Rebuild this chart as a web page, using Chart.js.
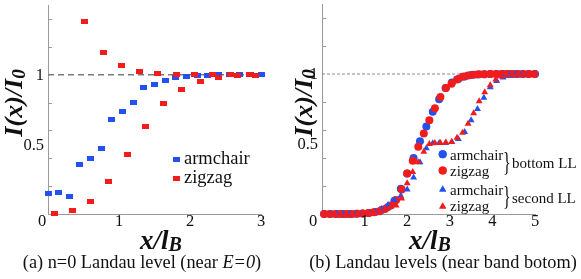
<!DOCTYPE html>
<html>
<head>
<meta charset="utf-8">
<script src="https://cdn.jsdelivr.net/npm/chart.js@4.4.1/dist/chart.umd.min.js"></script>
<style>
html, body { margin: 0; padding: 0; background: #fff; }
#wrap { position: relative; width: 581px; height: 279px; overflow: hidden; }
.box { position: absolute; top: 0; height: 279px; }
#boxA { left: 0; width: 290px; }
#boxB { left: 290px; width: 291px; }
</style>
</head>
<body>
<div id="wrap">
  <div class="box" id="boxA"><canvas id="chartA" width="290" height="279"></canvas></div>
  <div class="box" id="boxB"><canvas id="chartB" width="291" height="279"></canvas></div>
</div>
<script>
// ---------------- Data: panel (a) n=0 Landau level ----------------
const aArmX = [0, 0.15, 0.3, 0.45, 0.6, 0.75, 0.9, 1.05, 1.2, 1.35, 1.5, 1.65, 1.8, 1.95, 2.1, 2.25, 2.4, 2.55, 2.7, 2.85, 3.0];
const aArmY = [0.147, 0.152, 0.128, 0.354, 0.396, 0.468, 0.676, 0.736, 0.802, 0.907, 0.930, 0.956, 0.981, 0.986, 0.993, 0.995, 0.998, 1.0, 1.0, 1.0, 1.0];
const aZigX = [0.085, 0.342, 0.521, 0.601, 0.779, 0.859, 1.032, 1.117, 1.292, 1.376, 1.549, 1.630, 1.803, 1.887, 2.060, 2.141, 2.320, 2.404, 2.573, 2.662, 2.831, 2.920];
const aZigY = [0.003, 0.023, 1.385, 0.093, 1.156, 0.236, 1.063, 0.429, 1.023, 0.629, 1.007, 0.790, 0.998, 0.897, 1.0, 0.953, 1.0, 0.981, 1.0, 0.991, 1.0, 0.995];
const aXTicks = [1, 2, 3];

// ---------------- Data: panel (b) Landau levels near band bottom ----------------
const bArmX = [0.05, 0.2, 0.35, 0.5, 0.65, 0.8, 0.95, 1.1, 1.25, 1.4, 1.55, 1.7, 1.85, 2.0, 2.15, 2.3, 2.45, 2.6, 2.75, 2.9, 3.05, 3.2, 3.35, 3.5, 3.65, 3.8, 3.95, 4.1, 4.25, 4.4, 4.55, 4.7, 4.85, 5.0];
const bArmBottom = [0, 0, 0, 0, 0, 0.001, 0.004, 0.008, 0.015, 0.028, 0.05, 0.095, 0.18, 0.29, 0.40, 0.52, 0.625, 0.73, 0.82, 0.90, 0.94, 0.965, 0.982, 0.992, 0.997, 0.999, 1, 1, 1, 1, 1, 1, 1, 1];
const bArmSecond = [0, 0, 0, 0, 0, 0, 0.003, 0.008, 0.016, 0.035, 0.065, 0.10, 0.13, 0.175, 0.26, 0.37, 0.47, 0.505, 0.508, 0.508, 0.515, 0.535, 0.585, 0.67, 0.75, 0.83, 0.905, 0.95, 0.975, 0.99, 0.996, 0.998, 1, 1];
const bZigX = [0.05, 0.18, 0.31, 0.44, 0.57, 0.7, 0.83, 0.96, 1.09, 1.22, 1.35, 1.48, 1.61, 1.74, 1.87, 2.0, 2.13, 2.26, 2.39, 2.52, 2.65, 2.78, 2.91, 3.04, 3.17, 3.3, 3.43, 3.56, 3.69, 3.82, 3.95, 4.08, 4.21, 4.34, 4.47, 4.6, 4.73, 4.86, 4.99];
const bZigBottom = [0, 0, 0, 0, 0, 0, 0.002, 0.004, 0.007, 0.012, 0.02, 0.035, 0.06, 0.10, 0.175, 0.29, 0.38, 0.48, 0.575, 0.67, 0.755, 0.835, 0.90, 0.93, 0.96, 0.98, 0.99, 0.995, 0.998, 0.999, 1, 1, 1, 1, 1, 1, 1, 1, 1];
const bZigSecond = [0, 0, 0, 0, 0, 0, 0.002, 0.004, 0.008, 0.014, 0.025, 0.04, 0.05, 0.06, 0.11, 0.22, 0.30, 0.37, 0.445, 0.50, 0.508, 0.508, 0.51, 0.515, 0.545, 0.58, 0.645, 0.72, 0.805, 0.87, 0.92, 0.96, 0.982, 0.992, 0.996, 0.998, 1, 1, 1];
const bXTicks = [1, 2, 3, 4, 5];

const yTicks = [0.5, 1];
const yMinor = [0.2, 0.4, 0.6, 0.8, 1.2, 1.4];

// ---------------- Styles ----------------
const BLUE = '#2152f0';
const RED = '#f21c1c';
const AXIS = '#9a9a9a';
const SERIF = '"Liberation Serif", "Times New Roman", serif';

function pts(xs, ys){ return xs.map((x,i)=>({x, y: ys[i]})); }

function makeRect(color){
    const c = document.createElement('canvas');
    c.width = 7; c.height = 5;
    const g = c.getContext('2d');
    g.fillStyle = color; g.fillRect(0,0,7,5);
    return c;
}

function drawSub(ctx, main, sub, x, y, size, subSize, drop){
    ctx.font = `italic bold ${size}px ${SERIF}`;
    const w1 = ctx.measureText(main).width;
    ctx.font = `italic bold ${subSize}px ${SERIF}`;
    const w2 = ctx.measureText(sub).width;
    const x0 = x - (w1+w2)/2;
    ctx.textAlign = 'left'; ctx.textBaseline = 'alphabetic';
    ctx.font = `italic bold ${size}px ${SERIF}`;
    ctx.fillText(main, x0, y);
    ctx.font = `italic bold ${subSize}px ${SERIF}`;
    ctx.fillText(sub, x0 + w1, y + drop);
}

function drawRuns(ctx, runs, cx, y){
    let w = 0;
    runs.forEach(r=>{ ctx.font = r[1]; w += ctx.measureText(r[0]).width; });
    let x = cx - w/2;
    ctx.textAlign = 'left'; ctx.textBaseline = 'alphabetic';
    runs.forEach(r=>{ ctx.font = r[1]; ctx.fillText(r[0], x, y); x += ctx.measureText(r[0]).width; });
}

// ---------------- Decoration plugin ----------------
const decor = {
    id: 'decor',
    beforeDatasetsDraw(chart, args, o){
        const ctx = chart.ctx, ys = chart.scales.y, a = chart.chartArea;
        ctx.save();
        // dashed reference line at I/I0 = 1
        const y1 = ys.getPixelForValue(1);
        ctx.strokeStyle = o.dashColor; ctx.lineWidth = o.dashWidth;
        ctx.setLineDash(o.dash);
        ctx.beginPath(); ctx.moveTo(a.left, y1); ctx.lineTo(a.right + 3, y1); ctx.stroke();
        ctx.setLineDash([]);
        // inward minor ticks on y axis
        ctx.strokeStyle = AXIS; ctx.lineWidth = 1;
        yMinor.forEach(v=>{
            const py = Math.round(ys.getPixelForValue(v)) + 0.5;
            ctx.beginPath(); ctx.moveTo(a.left, py); ctx.lineTo(a.left + 4, py); ctx.stroke();
        });
        ctx.restore();
    },
    afterDraw(chart, args, o){
        const ctx = chart.ctx, xs = chart.scales.x, ys = chart.scales.y, a = chart.chartArea;
        ctx.save();
        ctx.fillStyle = '#111';
        // tick labels
        ctx.font = `16.5px ${SERIF}`;
        ctx.textAlign = 'right'; ctx.textBaseline = 'middle';
        yTicks.forEach(v=> ctx.fillText(String(v), a.left - 4, ys.getPixelForValue(v) + 1));
        ctx.textAlign = 'center';
        o.xTicks.forEach(v=> ctx.fillText(String(v), xs.getPixelForValue(v), a.bottom + 8));
        ctx.fillText('0', a.left - o.zeroShift, a.bottom + 8);

        // axis titles
        drawSub(ctx, 'x/l', 'B', o.xTitleX, 249, 27, 20, 2);
        ctx.save();
        ctx.translate(o.yTitleX, 103);
        ctx.rotate(-Math.PI/2);
        drawSub(ctx, 'I(x)/I', '0', 0, 0, 26, 19, 3);
        ctx.restore();

        // caption
        ctx.fillStyle = '#111';
        drawRuns(ctx, o.caption, o.captionX, 268);

        // legend
        o.legend(ctx, chart);
        ctx.restore();
    }
};

function scalesFor(xMax, leftW){
    return {
        x: { type: 'linear', min: 0, max: xMax, grid: { display: false }, border: { color: AXIS },
             ticks: { display: false }, afterFit: s=>{ s.height = 65; } },
        y: { type: 'linear', min: 0, max: 1.5, grid: { display: false }, border: { color: AXIS },
             ticks: { display: false }, afterFit: s=>{ s.width = leftW; } }
    };
}

// ---------------- Panel (a) ----------------
const rectBlue = makeRect(BLUE), rectRed = makeRect(RED);
new Chart(document.getElementById('chartA'), {
    type: 'scatter',
    data: { datasets: [
        { label: 'zigzag', data: pts(aZigX, aZigY), pointStyle: rectRed, clip: false, order: 0 },
        { label: 'armchair', data: pts(aArmX, aArmY), pointStyle: rectBlue, clip: false, order: 1 }
    ]},
    options: {
        responsive: false, animation: false,
        layout: { padding: { left: 0, right: 29, top: 0, bottom: 0 } },
        scales: scalesFor(3, 48),
        plugins: {
            legend: { display: false }, tooltip: { enabled: false },
            decor: {
                dash: [6, 4], dashColor: '#7a7a7a', dashWidth: 1.5,
                xTicks: aXTicks, zeroShift: 6, xTitleX: 161, yTitleX: 22, captionX: 142,
                caption: [['(a) n=0 Landau level (near ', `18.3px ${SERIF}`], ['E=0', `italic 18.3px ${SERIF}`], [')', `18.3px ${SERIF}`]],
                legend(ctx){
                    ctx.drawImage(rectBlue, 173, 157);
                    ctx.drawImage(rectRed, 173, 176);
                    ctx.fillStyle = '#111';
                    ctx.font = `18.5px ${SERIF}`; ctx.textAlign = 'left'; ctx.textBaseline = 'alphabetic';
                    ctx.fillText('armchair', 184, 164);
                    ctx.fillText('zigzag', 184, 182.5);
                }
            }
        }
    },
    plugins: [decor]
});

// ---------------- Panel (b) ----------------
function legendB(ctx){
    const mk = (style, color, x, y)=>{
        ctx.fillStyle = color;
        Chart.helpers.drawPoint(ctx, { pointStyle: style, radius: 4, borderWidth: 0 }, x, y);
        ctx.fill();
    };
    mk('circle', BLUE, 152.7, 154.3);
    mk('circle', RED, 152.7, 170.5);
    mk('triangle', BLUE, 152.7, 189.5);
    mk('triangle', RED, 152.7, 206.5);
    ctx.fillStyle = '#111';
    ctx.font = `15px ${SERIF}`; ctx.textAlign = 'left'; ctx.textBaseline = 'alphabetic';
    ctx.fillText('armchair', 160, 159.5);
    ctx.fillText('zigzag', 160, 175.5);
    ctx.fillText('armchair', 160, 194.5);
    ctx.fillText('zigzag', 160, 211);
    ctx.fillText('bottom LL', 222, 167.5);
    ctx.fillText('second LL', 222, 202.5);
    ctx.save();
    ctx.font = `27px ${SERIF}`;
    ctx.translate(213, 0); ctx.scale(0.6, 1);
    ctx.fillText('}', 0, 171);
    ctx.fillText('}', 0, 205);
    ctx.restore();
}

new Chart(document.getElementById('chartB'), {
    type: 'scatter',
    data: { datasets: [
        { label: 'armchair', data: pts(bArmX, bArmBottom), pointStyle: 'circle', pointRadius: 4, backgroundColor: BLUE, clip: false, order: 3 },
        { label: 'zigzag', data: pts(bZigX, bZigBottom), pointStyle: 'circle', pointRadius: 4, backgroundColor: RED, clip: false, order: 2 },
        { label: 'armchair', data: pts(bArmX, bArmSecond), pointStyle: 'triangle', pointRadius: 4, backgroundColor: BLUE, clip: false, order: 1 },
        { label: 'zigzag', data: pts(bZigX, bZigSecond), pointStyle: 'triangle', pointRadius: 4, backgroundColor: RED, clip: false, order: 0 }
    ]},
    options: {
        responsive: false, animation: false,
        elements: { point: { borderWidth: 0 } },
        layout: { padding: { left: 0, right: 46, top: 0, bottom: 0 } },
        scales: scalesFor(5, 32),
        plugins: {
            legend: { display: false }, tooltip: { enabled: false },
            decor: {
                dash: [3, 2], dashColor: '#8a8a8a', dashWidth: 1,
                xTicks: bXTicks, zeroShift: 9, xTitleX: 140, yTitleX: 22, captionX: 153,
                caption: [['(b) Landau levels (near band botom)', `18.3px ${SERIF}`]],
                legend: legendB
            }
        }
    },
    plugins: [decor]
});
</script>
</body>
</html>
